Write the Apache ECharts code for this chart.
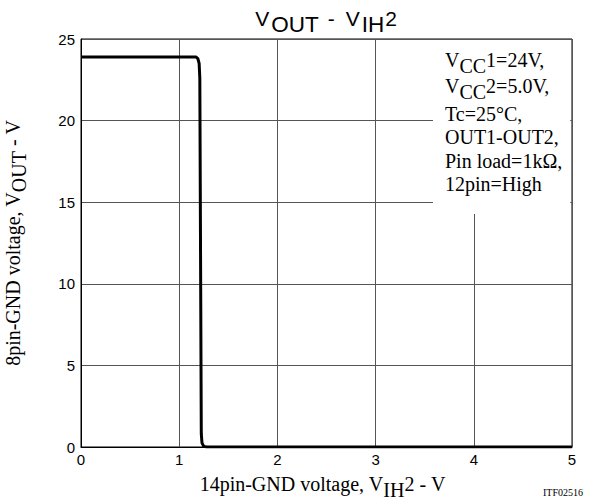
<!DOCTYPE html>
<html>
<head>
<meta charset="utf-8">
<script src="https://cdn.jsdelivr.net/npm/echarts@6/dist/echarts.min.js"></script>
<style>
  html, body { margin: 0; padding: 0; background: #fff; }
  #chart { width: 590px; height: 504px; }
</style>
</head>
<body>
<div id="chart"></div>
<script>
  // VIH2 (V) vs VOUT (V)
  const vih2 = [0, 1.17, 1.19, 1.203, 1.21, 1.225, 1.232, 1.25, 1.28, 5];
  const vout = [23.9, 23.9, 23.8, 23.5, 22.6, 0.8, 0.25, 0.04, 0, 0];

  const xTicks = { min: 0, max: 5, step: 1 };
  const yTicks = { min: 0, max: 25, step: 5 };

  const conditions = [
    '{n|V}{s|CC}{n|1=24V,}',
    '{n|V}{s|CC}{n|2=5.0V,}',
    'Tc=25°C,',
    'OUT1-OUT2,',
    'Pin load=1kΩ,',
    '12pin=High'
  ];

  const curve = vih2.map((x, i) => [x, vout[i]]);

  const serif = 'Liberation Serif, Times New Roman, serif';
  const sans = 'Liberation Sans, Arial, sans-serif';

  // rich styles: s = lowered (subscript-like) text
  const serifRich = {
    n: { fontFamily: serif, fontSize: 20, color: '#000', verticalAlign: 'top' },
    s: { fontFamily: serif, fontSize: 20, color: '#000', verticalAlign: 'top', padding: [6, 0, 0, 0] }
  };

  const chart = echarts.init(document.getElementById('chart'), null, { renderer: 'svg' });

  const option = {
    animation: false,
    backgroundColor: '#fff',
    title: [
      {
        text: '{n|V}{s|OUT}{d|-}{n|V}{s|IH}{t|2}',
        left: 326,
        top: 8,
        textAlign: 'center',
        padding: 0,
        textStyle: {
          fontFamily: sans, fontSize: 21, fontWeight: 'normal', color: '#000',
          rich: {
            n: { fontFamily: sans, fontSize: 21, color: '#000', verticalAlign: 'top' },
            d: { fontFamily: sans, fontSize: 21, color: '#000', verticalAlign: 'top', padding: [0, 11, 0, 9] },
            t: { fontFamily: sans, fontSize: 21, color: '#000', verticalAlign: 'top', padding: [0, 0, 0, 1] },
            s: { fontFamily: sans, fontSize: 22.5, color: '#000', verticalAlign: 'top', padding: [5, 0, 0, 2] }
          }
        }
      },
      {
        text: conditions.join('\n'),
        left: 433,
        top: 40,
        backgroundColor: '#fff',
        padding: [10, 8, 18, 12],
        textStyle: {
          fontFamily: serif, fontSize: 20, fontWeight: 'normal', color: '#000', lineHeight: 23.5,
          rich: {
            n: { fontFamily: serif, fontSize: 20, color: '#000', lineHeight: 26, verticalAlign: 'top' },
            s: { fontFamily: serif, fontSize: 20, color: '#000', lineHeight: 20, verticalAlign: 'top', padding: [6, 0, 0, 0] }
          }
        }
      },
      {
        text: 'ITF02516',
        left: 543,
        top: 487,
        padding: 0,
        textStyle: { fontFamily: serif, fontSize: 10, fontWeight: 'normal', color: '#000' }
      }
    ],
    grid: {
      left: 81, top: 39, right: 18, bottom: 57,
      outerBoundsMode: 'none',
      containLabel: false,
      show: true, borderColor: '#000', borderWidth: 1, backgroundColor: 'transparent'
    },
    xAxis: {
      type: 'value',
      min: xTicks.min, max: xTicks.max, interval: xTicks.step,
      name: '{n|14pin-GND voltage, V}{s|IH}{n|2 - V}',
      nameLocation: 'middle',
      nameGap: 27,
      nameTextStyle: {
        fontFamily: serif, fontSize: 20, color: '#000', padding: [0, 8, 0, 0],
        rich: serifRich
      },
      axisLine: { show: true, lineStyle: { color: '#000', width: 1 } },
      axisTick: { show: false },
      axisLabel: { margin: 5, fontFamily: sans, fontSize: 15, color: '#000' },
      splitLine: { show: true, lineStyle: { color: '#555', width: 1 } }
    },
    yAxis: {
      type: 'value',
      min: yTicks.min, max: yTicks.max, interval: yTicks.step,
      name: '{n|8pin-GND voltage, V}{s|OUT}{n| - V}',
      nameLocation: 'middle',
      nameRotate: 90,
      nameGap: 52,
      nameTextStyle: {
        fontFamily: serif, fontSize: 20, color: '#000',
        rich: serifRich
      },
      axisLine: { show: true, lineStyle: { color: '#000', width: 1 } },
      axisTick: { show: false },
      axisLabel: { margin: 6, fontFamily: sans, fontSize: 15, color: '#000' },
      splitLine: { show: true, lineStyle: { color: '#555', width: 1 } }
    },
    series: [
      {
        type: 'line',
        data: curve,
        showSymbol: false,
        smooth: false,
        lineStyle: { color: '#000', width: 3, join: 'round' },
        z: 3
      }
    ]
  };

  chart.setOption(option);
</script>
</body>
</html>
